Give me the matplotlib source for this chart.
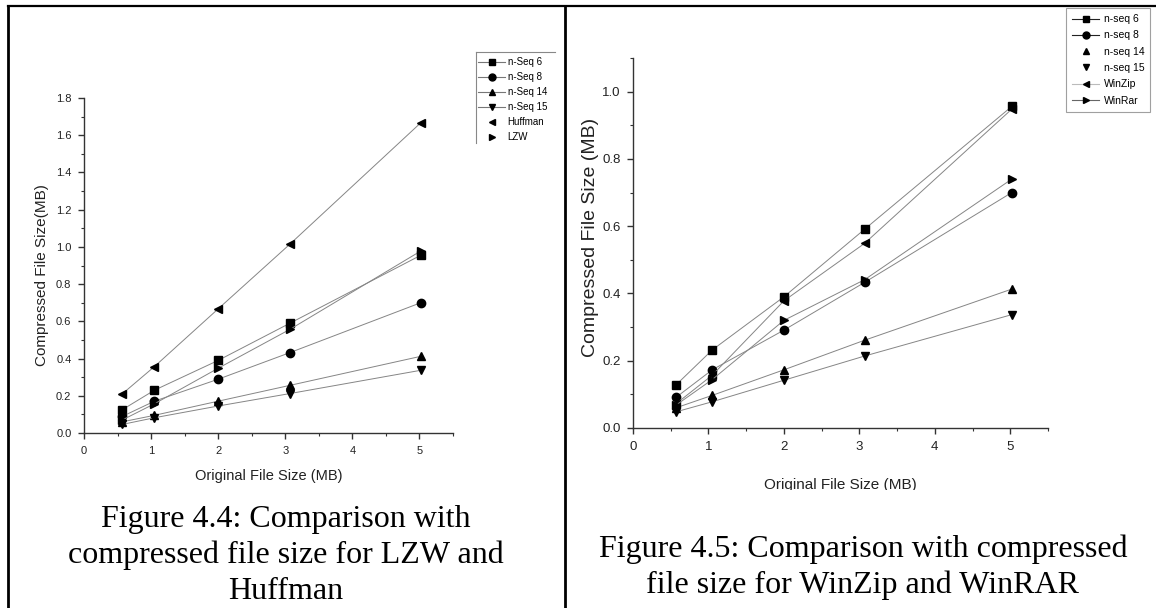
import matplotlib.pyplot as plt
from matplotlib.lines import Line2D
from matplotlib.patches import Rectangle
from matplotlib.ticker import MultipleLocator, FormatStrFormatter

plt.rcParams['font.family'] = ['Liberation Sans', 'DejaVu Sans']

# original file sizes (MB), shared by both figures
x_mb = [0.57, 1.05, 2.0, 3.07, 5.02]

# Figure 4.4: LZW and Huffman
seq6_a = [0.125, 0.23, 0.39, 0.59, 0.955]
seq8_a = [0.089, 0.171, 0.289, 0.432, 0.70]
seq14_a = [0.06, 0.095, 0.171, 0.256, 0.412]
seq15_a = [0.046, 0.082, 0.145, 0.212, 0.337]
huffman = [0.21, 0.357, 0.667, 1.015, 1.667]
lzw = [0.07, 0.157, 0.348, 0.557, 0.978]
labels_a = ['n-Seq 6', 'n-Seq 8', 'n-Seq 14', 'n-Seq 15', 'Huffman', 'LZW']

# Figure 4.5: WinZip and WinRAR
seq6_b = [0.128, 0.232, 0.39, 0.591, 0.956]
seq8_b = [0.091, 0.173, 0.291, 0.433, 0.70]
seq14_b = [0.06, 0.097, 0.173, 0.261, 0.413]
seq15_b = [0.048, 0.078, 0.142, 0.214, 0.337]
winzip = [0.072, 0.157, 0.378, 0.549, 0.948]
winrar = [0.068, 0.144, 0.32, 0.441, 0.74]
labels_b = ['n-seq 6', 'n-seq 8', 'n-seq 14', 'n-seq 15', 'WinZip', 'WinRar']

markers = ['s', 'o', '^', 'v', '<', '>']
W, H = 1156, 608


def fx(px):
    return px / W


def fy(py):
    return 1 - py / H


def draw_series(ax, series, labels):
    for ys, m, lab in zip(series, markers, labels):
        ax.plot(x_mb, ys, color='#858585', lw=0.7, marker=m, ms=6,
                mfc='black', mec='black', label=lab)


def style_axes(ax, ymax, tick_fs, pad):
    ax.set_xlim(0, 5.5)
    ax.set_ylim(0, ymax)
    ax.xaxis.set_major_locator(MultipleLocator(1))
    ax.xaxis.set_minor_locator(MultipleLocator(0.5))
    ax.yaxis.set_major_locator(MultipleLocator(0.2))
    ax.yaxis.set_minor_locator(MultipleLocator(0.1))
    ax.yaxis.set_major_formatter(FormatStrFormatter('%.1f'))
    ax.spines['top'].set_visible(False)
    ax.spines['right'].set_visible(False)
    for s in ('left', 'bottom'):
        ax.spines[s].set_color('#333333')
        ax.spines[s].set_linewidth(1.0)
    ax.tick_params(which='major', direction='out', length=4, width=1, pad=pad,
                   color='#333333', labelsize=tick_fs, labelcolor='#222222')
    ax.tick_params(which='minor', direction='out', length=2.5, width=0.8,
                   color='#333333')


fig = plt.figure(figsize=(W / 100, H / 100), dpi=100)

# ---- left chart
ax1 = fig.add_axes([fx(84), fy(433), fx(453) - fx(84), fy(98) - fy(433)])
draw_series(ax1, [seq6_a, seq8_a, seq14_a, seq15_a, huffman, lzw], labels_a)
style_axes(ax1, 1.8, 8, 5)
ax1.set_xlabel('Original File Size (MB)', fontsize=10.5, color='#222222', labelpad=10)
ax1.set_ylabel('Compressed File Size(MB)', fontsize=11, color='#222222')
ax1.yaxis.set_label_coords(-0.095, 0.47)

h_a = []
for i, (m, lab) in enumerate(zip(markers, labels_a)):
    ls = '-' if i < 4 else 'none'
    h_a.append(Line2D([], [], color='#777777', lw=0.8, ls=ls, marker=m, ms=5,
                      mfc='black', mec='black', label=lab))
fig.legend(handles=h_a, loc='upper left', bbox_to_anchor=(fx(476), fy(55)),
           frameon=False, fontsize=7, handlelength=2.8, handletextpad=0.25,
           labelspacing=0.52, borderpad=0.2, borderaxespad=0)
fig.add_artist(Line2D([fx(476), fx(555)], [fy(52), fy(52)], color='#888888', lw=0.8))
fig.add_artist(Line2D([fx(476), fx(476)], [fy(52), fy(143)], color='#888888', lw=0.8))

fig.text(fx(286), fy(505), 'Figure 4.4: Comparison with\ncompressed file size for LZW and\nHuffman',
         ha='center', va='top', fontsize=23, family='Liberation Serif',
         linespacing=1.3)

# ---- right chart
ax2 = fig.add_axes([fx(633), fy(428), fx(1048) - fx(633), fy(58) - fy(428)])
draw_series(ax2, [seq6_b, seq8_b, seq14_b, seq15_b, winzip, winrar], labels_b)
style_axes(ax2, 1.1, 9.5, 5)
ax2.set_xlabel('Original File Size (MB)', fontsize=11, color='#222222', labelpad=18)
ax2.set_ylabel('Compressed File Size (MB)', fontsize=14, color='#222222')
ax2.yaxis.set_label_coords(-0.082, 0.516)

line_cols = ['#222222', '#222222', None, None, '#bbbbbb', '#666666']
h_b = []
for m, lab, c in zip(markers, labels_b, line_cols):
    h_b.append(Line2D([], [], color=c or 'black', lw=0.8, ls='-' if c else 'none',
                      marker=m, ms=5, mfc='black', mec='black', label=lab))
leg = fig.legend(handles=h_b, loc='upper left', bbox_to_anchor=(fx(1066), fy(8)),
                 frameon=True, fancybox=False, edgecolor='#888888', fontsize=7.5,
                 handlelength=2.6, handletextpad=0.4, labelspacing=0.6,
                 borderpad=0.6, borderaxespad=0)
leg.get_frame().set_linewidth(0.8)

# the x label of Figure 4.5 is cut off at the bottom in the source page
fig.add_artist(Rectangle((fx(640), fy(500)), fx(330), fy(490) - fy(500),
                         facecolor='white', edgecolor='none', zorder=10))

fig.text(fx(863), fy(535), 'Figure 4.5: Comparison with compressed\nfile size for WinZip and WinRAR',
         ha='center', va='top', fontsize=23, family='Liberation Serif',
         linespacing=1.25)

# table borders
fig.add_artist(Line2D([fx(8), fx(8)], [fy(6), 0], color='black', lw=2))
fig.add_artist(Line2D([fx(565), fx(565)], [fy(6), 0], color='black', lw=2))
fig.add_artist(Line2D([fx(8), 1], [fy(6), fy(6)], color='black', lw=1.6))

fig.savefig('out.png', dpi=100)
